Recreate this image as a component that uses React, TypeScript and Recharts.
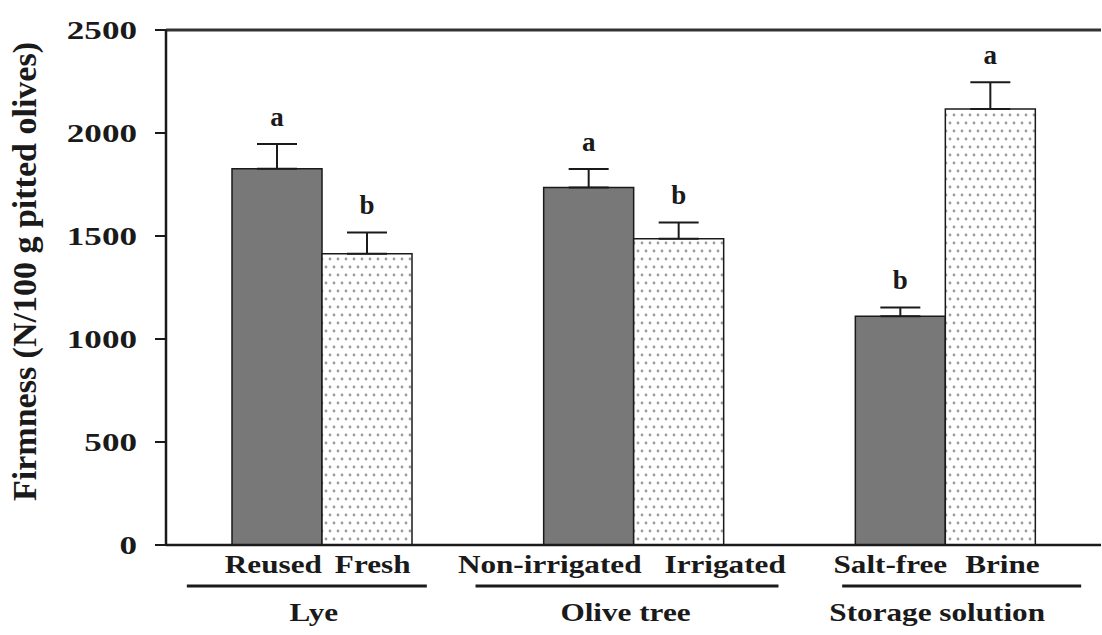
import React from 'react';
import { BarChart, Bar, XAxis, YAxis, ErrorBar, ReferenceLine } from 'recharts';

const groups = ['Lye', 'Olive tree', 'Storage solution'];
const leftLabels = ['Reused', 'Non-irrigated', 'Salt-free'];
const rightLabels = ['Fresh', 'Irrigated', 'Brine'];
const darkValues = [1826, 1735, 1110];
const darkErrors = [120, 90, 43];
const darkLetters = ['a', 'a', 'b'];
const dottedValues = [1414, 1487, 2117];
const dottedErrors = [103, 79, 129];
const dottedLetters = ['b', 'b', 'a'];
const yTicks = [0, 500, 1000, 1500, 2000, 2500];
const yLabel = 'Firmness (N/100 g pitted olives)';

const data = groups.map((g, i) => ({
  group: g,
  dark: darkValues[i],
  darkErr: [0, darkErrors[i]],
  dotted: dottedValues[i],
  dottedErr: [0, dottedErrors[i]],
}));

const FONT = "'Liberation Serif', 'Times New Roman', serif";
const INK = '#1a1a1a';
const UNDERLINES: number[][] = [[-135, 105], [-158, 145], [-103, 136]];
const SUB_OFFSETS: number[][] = [[0, 13], [8, 31], [2, 20]];

const YTick = (props: any) => {
  const { x, y, payload } = props;
  return (
    <text
      transform={`translate(${x},${y}) scale(1.35,1)`}
      textAnchor="end"
      dy="0.34em"
      fontFamily={FONT}
      fontWeight="bold"
      fontSize={26}
      fill={INK}
    >
      {payload.value}
    </text>
  );
};

const XTick = (props: any) => {
  const { x, y, payload } = props;
  const i = groups.indexOf(payload.value);
  const [u0, u1] = UNDERLINES[i] ?? [-130, 130];
  const [l0, r0] = SUB_OFFSETS[i] ?? [2, 18];
  const common = { fontFamily: FONT, fontWeight: 'bold', fontSize: 26, fill: INK } as any;
  return (
    <g>
      <text transform={`translate(${x + l0},${y + 28}) scale(1.2,1)`} textAnchor="end" {...common}>
        {leftLabels[i]}
      </text>
      <text transform={`translate(${x + r0},${y + 28}) scale(1.2,1)`} textAnchor="start" {...common}>
        {rightLabels[i]}
      </text>
      <line x1={x + u0} x2={x + u1} y1={y + 41} y2={y + 41} stroke={INK} strokeWidth={3} />
      <text transform={`translate(${x - 8},${y + 76}) scale(1.2,1)`} textAnchor="middle" {...common}>
        {groups[i]}
      </text>
    </g>
  );
};

const makeLetter = (letters: string[], errors: number[]) => (props: any) => {
  const { x, y, width, height, value, index } = props;
  const err = errors[index];
  const top = y - (err * height) / value;
  return (
    <text
      key={`l-${index}`}
      x={x + width / 2}
      y={top - 18}
      textAnchor="middle"
      fontFamily={FONT}
      fontWeight="bold"
      fontSize={27}
      fill={INK}
    >
      {letters[index]}
    </text>
  );
};

const YLabel = (props: any) => {
  const vb = props.viewBox || { x: 0, y: 30, width: 166, height: 515 };
  const cy = vb.y + vb.height / 2 - 16;
  return (
    <text
      transform={`translate(${vb.x + 36},${cy}) rotate(-90)`}
      textAnchor="middle"
      fontFamily={FONT}
      fontWeight="bold"
      fontSize={34}
      fill={INK}
    >
      {yLabel}
    </text>
  );
};

export default function App() {
  return (
    <div
      style={{
        position: 'absolute',
        left: 0,
        top: 0,
        width: 1102,
        height: 635,
        overflow: 'hidden',
        background: '#fff',
      }}
    >
      <BarChart
        width={1102}
        height={635}
        data={data}
        margin={{ top: 30, right: 1, left: 0, bottom: 10 }}
        barGap={0}
        barSize={90}
      >
        <defs>
          <pattern id="dots" width="8" height="16" patternUnits="userSpaceOnUse">
            <rect width="8" height="16" fill="#ffffff" />
            <circle cx="2" cy="3" r="1.4" fill="#9c9c9c" />
            <circle cx="6" cy="11" r="1.4" fill="#9c9c9c" />
          </pattern>
        </defs>
        <XAxis
          dataKey="group"
          height={80}
          interval={0}
          tick={<XTick />}
          tickLine={false}
          tickSize={0}
          tickMargin={0}
          axisLine={{ stroke: INK, strokeWidth: 2.5 }}
        />
        <YAxis
          width={166}
          domain={[0, 2500]}
          ticks={yTicks}
          interval={0}
          tick={<YTick />}
          tickSize={11}
          tickMargin={18}
          axisLine={{ stroke: INK, strokeWidth: 2.5 }}
          tickLine={{ stroke: INK, strokeWidth: 2 }}
          label={<YLabel />}
        />
        <YAxis
          yAxisId="r"
          orientation="right"
          width={0}
          domain={[0, 2500]}
          tick={false}
          tickLine={false}
          axisLine={{ stroke: '#9a9a9a', strokeWidth: 1 }}
        />
        <ReferenceLine y={2500} stroke="#333" strokeWidth={3} />
        <Bar
          dataKey="dark"
          fill="#787878"
          stroke={INK}
          strokeWidth={1.5}
          isAnimationActive={false}
          label={makeLetter(darkLetters, darkErrors)}
        >
          <ErrorBar dataKey="darkErr" width={20} stroke={INK} strokeWidth={2} direction="y" />
        </Bar>
        <Bar
          dataKey="dotted"
          fill="url(#dots)"
          stroke={INK}
          strokeWidth={1.5}
          isAnimationActive={false}
          label={makeLetter(dottedLetters, dottedErrors)}
        >
          <ErrorBar dataKey="dottedErr" width={20} stroke={INK} strokeWidth={2} direction="y" />
        </Bar>
      </BarChart>
    </div>
  );
}
